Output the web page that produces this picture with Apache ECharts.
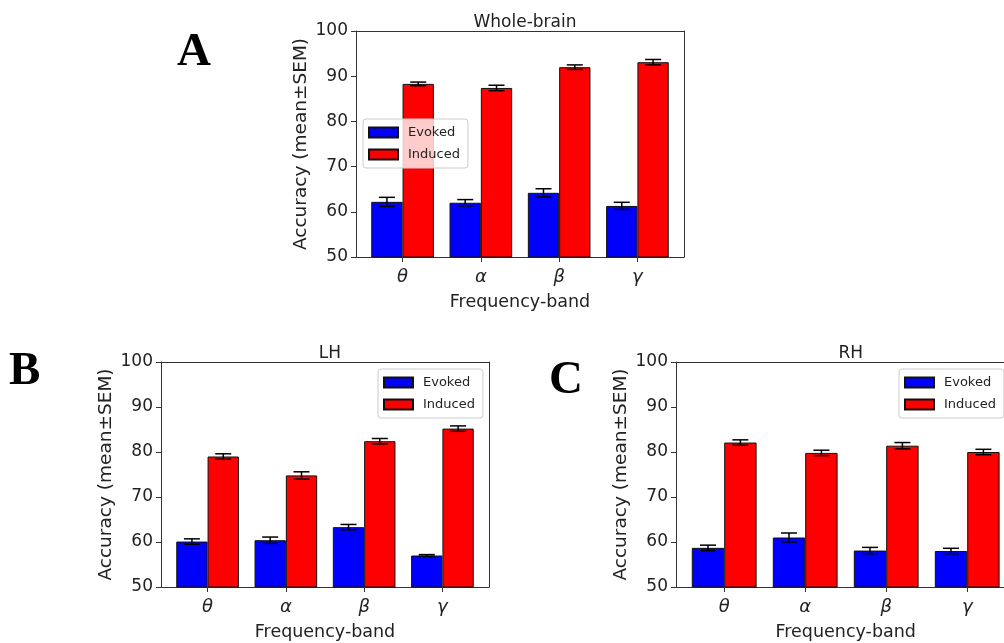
<!DOCTYPE html>
<html>
<head>
<meta charset="utf-8">
<script src="https://cdn.jsdelivr.net/npm/echarts@6/dist/echarts.min.js"></script>
<style>
  html, body { margin: 0; padding: 0; background: #fff; }
  #chart { width: 1004px; height: 643px; }
</style>
</head>
<body>
<div id="chart"></div>
<script>
  // data
  const bands = ['θ', 'α', 'β', 'γ'];
  const seriesNames = ['Evoked', 'Induced'];
  const yTicks = [50, 100, 10]; // min, max, step

  const wholeEvoked = [62.2, 62.0, 64.2, 61.3];
  const wholeEvokedErr = [1.0, 0.7, 0.9, 0.8];
  const wholeInduced = [88.3, 87.4, 92.0, 93.1];
  const wholeInducedErr = [0.4, 0.6, 0.5, 0.6];

  const lhEvoked = [60.1, 60.4, 63.3, 57.0];
  const lhEvokedErr = [0.6, 0.7, 0.6, 0.2];
  const lhInduced = [79.0, 74.8, 82.4, 85.2];
  const lhInducedErr = [0.6, 0.8, 0.6, 0.6];

  const rhEvoked = [58.7, 61.0, 58.1, 58.0];
  const rhEvokedErr = [0.6, 1.0, 0.7, 0.6];
  const rhInduced = [82.1, 79.8, 81.4, 80.0];
  const rhInducedErr = [0.6, 0.6, 0.7, 0.6];

  const FONT = '"DejaVu Sans", sans-serif';
  const W = 1004;
  const FRAME = '#333';

  // layout of the three panels (frame box in px)
  const panels = [
    { title: 'Whole-brain', letter: 'A', left: 356, top: 31, width: 328, height: 226,
      ev: wholeEvoked, evErr: wholeEvokedErr, ind: wholeInduced, indErr: wholeInducedErr,
      legend: { left: 363, top: 119 }, letterPos: [177, 29] },
    { title: 'LH', letter: 'B', left: 161, top: 362, width: 328, height: 225,
      ev: lhEvoked, evErr: lhEvokedErr, ind: lhInduced, indErr: lhInducedErr,
      legend: { left: 378, top: 369 }, letterPos: [9, 348] },
    { title: 'RH', letter: 'C', left: 676, top: 362, width: 339.4, height: 225,
      ev: rhEvoked, evErr: rhEvokedErr, ind: rhInduced, indErr: rhInducedErr,
      legend: { left: 899, top: 369 }, letterPos: [549, 357] }
  ];

  const grid = [], xAxis = [], yAxis = [], series = [], title = [], legend = [], graphic = [];

  function errBars(offset) {
    return function (params, api) {
      const c = api.coord([api.value(0), api.value(1)]);
      const band = api.size([1, 0])[0];
      const x = c[0] + offset * band;
      const lo = api.coord([api.value(0), api.value(1) - api.value(2)])[1];
      const hi = api.coord([api.value(0), api.value(1) + api.value(2)])[1];
      const cap = 8;
      const st = { stroke: '#000', lineWidth: 1.5 };
      return {
        type: 'group',
        children: [
          { type: 'line', shape: { x1: x, y1: lo, x2: x, y2: hi }, style: st },
          { type: 'line', shape: { x1: x - cap, y1: lo, x2: x + cap, y2: lo }, style: st },
          { type: 'line', shape: { x1: x - cap, y1: hi, x2: x + cap, y2: hi }, style: st }
        ]
      };
    };
  }

  function lineOnly(pos) {
    return { show: true, position: pos,
      axisLine: { show: true, onZero: false, lineStyle: { color: FRAME, width: 1 } },
      axisTick: { show: false }, axisLabel: { show: false }, splitLine: { show: false } };
  }

  panels.forEach(function (p, k) {
    const s = p.width / 4.19;              // matplotlib category spacing
    const inner = (p.width - 4 * s) / 2;
    const fi = grid.length;
    grid.push({ left: p.left, top: p.top, width: p.width, height: p.height,
      outerBoundsMode: 'none', containLabel: false });
    const bi = grid.length;
    grid.push({ left: p.left + inner, top: p.top, width: 4 * s, height: p.height,
      outerBoundsMode: 'none', containLabel: false });

    // frame: top and bottom lines
    xAxis.push(Object.assign({ type: 'value', gridIndex: fi, min: 0, max: 1 }, lineOnly('bottom')));
    xAxis.push(Object.assign({ type: 'value', gridIndex: fi, min: 0, max: 1 }, lineOnly('top')));
    // category axis for the bars
    const bx = xAxis.length;
    xAxis.push({
      type: 'category', gridIndex: bi, data: bands,
      axisLine: { show: false },
      axisTick: { show: true, alignWithLabel: true, length: 5, lineStyle: { color: FRAME } },
      axisLabel: { fontSize: 18, fontStyle: 'italic', color: '#222', fontFamily: FONT, margin: 11 },
      name: 'Frequency-band', nameLocation: 'middle', nameGap: 36,
      nameTextStyle: { fontSize: 17.5, color: '#222', fontFamily: FONT }
    });

    yAxis.push({
      type: 'value', gridIndex: fi, position: 'left', min: yTicks[0], max: yTicks[1], interval: yTicks[2],
      axisLine: { show: true, onZero: false, lineStyle: { color: FRAME, width: 1 } },
      axisTick: { show: true, length: 5, lineStyle: { color: FRAME } },
      axisLabel: { fontSize: 17, color: '#222', fontFamily: FONT, margin: 8 },
      splitLine: { show: false },
      name: 'Accuracy (mean±SEM)', nameLocation: 'middle', nameGap: 45,
      nameTextStyle: { fontSize: 18.5, color: '#222', fontFamily: FONT }
    });
    // right edge of the frame; panel C runs off the page so its right edge is not seen
    const rightAxis = Object.assign({ type: 'value', gridIndex: fi, min: yTicks[0], max: yTicks[1] }, lineOnly('right'));
    rightAxis.show = p.left + p.width <= W;
    yAxis.push(rightAxis);
    const by = yAxis.length;
    yAxis.push({ type: 'value', gridIndex: bi, min: yTicks[0], max: yTicks[1], show: false });

    const vals = [p.ev, p.ind], errs = [p.evErr, p.indErr];
    const colors = ['#0000ff', '#ff0000'];
    seriesNames.forEach(function (name, j) {
      series.push({
        name: name, type: 'bar', xAxisIndex: bx, yAxisIndex: by,
        data: vals[j], barWidth: '40%', barGap: '0%',
        itemStyle: { color: colors[j], borderColor: '#111', borderWidth: 1 },
        emphasis: { disabled: true }
      });
      series.push({
        type: 'custom', xAxisIndex: bx, yAxisIndex: by, z: 5,
        renderItem: errBars(j === 0 ? -0.2 : 0.2),
        data: vals[j].map(function (v, i) { return [i, v, errs[j][i]]; }),
        silent: true
      });
    });

    title.push({
      text: p.title, left: p.left + p.width / 2, top: p.top - 22, textAlign: 'center',
      textStyle: { fontSize: 17, fontWeight: 'normal', color: '#222', fontFamily: FONT }
    });

    legend.push({
      data: seriesNames, orient: 'vertical', left: p.legend.left, top: p.legend.top,
      itemWidth: 29, itemHeight: 10, itemGap: 9, padding: [7, 8, 7, 5],
      backgroundColor: 'rgba(255,255,255,0.8)', borderColor: '#ccc', borderWidth: 1, borderRadius: 3,
      icon: 'rect', selectedMode: false,
      textStyle: { fontSize: 13, color: '#222', fontFamily: FONT, padding: [0, 0, 0, 5] }
    });

    graphic.push({
      type: 'text', left: p.letterPos[0], top: p.letterPos[1],
      style: { text: p.letter, font: 'bold 47px "Liberation Serif", serif', fill: '#000' }
    });
  });

  const chart = echarts.init(document.getElementById('chart'));
  chart.setOption({
    animation: false,
    backgroundColor: '#fff',
    title: title,
    legend: legend,
    grid: grid,
    xAxis: xAxis,
    yAxis: yAxis,
    series: series,
    graphic: graphic
  });
</script>
</body>
</html>
